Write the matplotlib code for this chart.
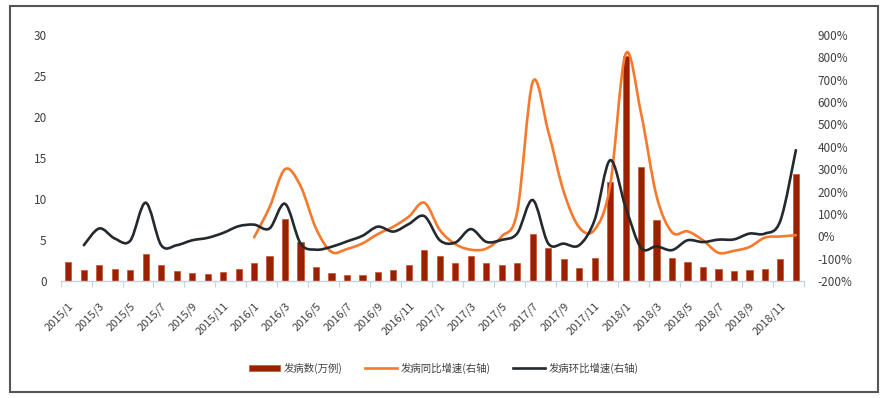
import numpy as np
import matplotlib
matplotlib.use('Agg')
import matplotlib.pyplot as plt
from matplotlib.path import Path
from matplotlib.patches import PathPatch, Rectangle, Patch
from matplotlib.lines import Line2D
from matplotlib.ticker import FuncFormatter, MultipleLocator

plt.rcParams['font.family'] = ['Noto Sans CJK SC', 'DejaVu Sans']

# monthly labels 2015/1 .. 2018/12
months = [f'{y}/{m}' for y in range(2015, 2019) for m in range(1, 13)]

# cases (10k)
cases = [2.3, 1.4, 1.9, 1.5, 1.35, 3.3, 2.0, 1.2, 1.0, 0.9, 1.05, 1.5,
         2.2, 3.1, 7.6, 4.75, 1.75, 0.93, 0.7, 0.73, 1.05, 1.3, 2.0, 3.75,
         3.0, 2.25, 3.0, 2.25, 1.9, 2.15, 5.75, 4.07, 2.7, 1.6, 2.77, 12.1,
         27.5, 13.9, 7.4, 2.8, 2.28, 1.67, 1.42, 1.22, 1.34, 1.47, 2.69, 13.0]

# year-over-year growth (%), from 2016/1
yoy = [-5, 130, 300, 225, 35, -70, -57, -32, 10, 43, 88, 150,
       28, -35, -60, -55, 0, 110, 690, 470, 200, 40, 30, 225,
       815, 550, 180, 18, 22, -18, -74, -65, -48, -6, -1, 5]

# month-over-month growth (%), from 2015/2
mom = [-40, 35, -10, -20, 150, -40, -40, -18, -7, 15, 45,
       52, 35, 145, -32, -60, -47, -23, 2, 43, 21, 55, 90,
       -18, -28, 32, -25, -16, 13, 162, -32, -33, -40, 73, 340,
       130, -52, -45, -62, -18, -26, -15, -14, 12, 12, 70, 385]

legend_labels = ['发病数(万例)', '发病同比增速(右轴)', '发病环比增速(右轴)']

bar_color = '#9A2000'
orange = '#F7792B'
dark = '#23292E'
text_c = '#404040'


def smooth_path(x, y):
    # excel-like smoothed line as cubic bezier segments
    verts = [(x[0], y[0])]
    codes = [Path.MOVETO]
    n = len(x)
    for k in range(n - 1):
        p0 = k - 1 if k > 0 else k
        p3 = k + 2 if k + 2 < n else k + 1
        c1 = (x[k] + (x[k + 1] - x[p0]) / 6, y[k] + (y[k + 1] - y[p0]) / 6)
        c2 = (x[k + 1] - (x[p3] - x[k]) / 6, y[k + 1] - (y[p3] - y[k]) / 6)
        verts += [c1, c2, (x[k + 1], y[k + 1])]
        codes += [Path.CURVE4] * 3
    return Path(verts, codes)


fig = plt.figure(figsize=(8.87, 3.98), dpi=100)
ax = fig.add_axes([0.0683, 0.294, 0.8377, 0.618])
ax2 = ax.twinx()

x = np.arange(len(cases))
ax.bar(x, cases, width=0.4, color=bar_color, edgecolor='#C4552A', linewidth=0.5)
ax.set_xlim(-0.5, len(cases) - 0.5)
ax.set_ylim(0, 30)
ax.yaxis.set_major_locator(MultipleLocator(5))

x_yoy = x[len(cases) - len(yoy):]
x_mom = x[len(cases) - len(mom):]
ax2.add_patch(PathPatch(smooth_path(x_yoy, yoy), facecolor='none',
                        edgecolor=orange, lw=1.9, capstyle='round'))
ax2.add_patch(PathPatch(smooth_path(x_mom, mom), facecolor='none',
                        edgecolor=dark, lw=1.9, capstyle='round'))
ax2.set_ylim(-200, 900)
ax2.yaxis.set_major_locator(MultipleLocator(100))
ax2.yaxis.set_major_formatter(FuncFormatter(lambda v, p: f'{v:.0f}%'))

# x ticks: labels every 2 months, marks between categories
ax.set_xticks(x[::2])
ax.set_xticklabels(months[::2], rotation=45, ha='right', rotation_mode='anchor',
                   fontsize=8, color=text_c)
ax.set_xticks(np.arange(-0.5, len(cases), 2), minor=True)
ax.tick_params(axis='x', which='major', length=0, pad=14)
ax.tick_params(axis='x', which='minor', length=4, color='#C5D5E0', width=0.8)
ax.tick_params(axis='y', length=0, pad=10, labelsize=8.5, labelcolor=text_c)
ax2.tick_params(axis='y', length=0, pad=10, labelsize=8.5, labelcolor=text_c)

for a in (ax, ax2):
    for s in ('top', 'left', 'right'):
        a.spines[s].set_visible(False)
ax2.spines['bottom'].set_visible(False)
ax.spines['bottom'].set_color('#C5D5E0')
ax.spines['bottom'].set_linewidth(1)

handles = [Patch(facecolor=bar_color, edgecolor='#C4552A', linewidth=0.5),
           Line2D([], [], color=orange, lw=1.9),
           Line2D([], [], color=dark, lw=1.9)]
leg = fig.legend(handles, legend_labels, loc='center', bbox_to_anchor=(0.5, 0.075),
                 ncol=3, frameon=False, fontsize=7.5, handlelength=3.0,
                 handleheight=0.6, handletextpad=0.35, columnspacing=2.2)
for t in leg.get_texts():
    t.set_color(text_c)

fig.patches.append(Rectangle((0.0113, 0.015), 0.9785, 0.97, transform=fig.transFigure,
                             fill=False, edgecolor='#555555', linewidth=1.5))

fig.savefig('out.png', dpi=100)
